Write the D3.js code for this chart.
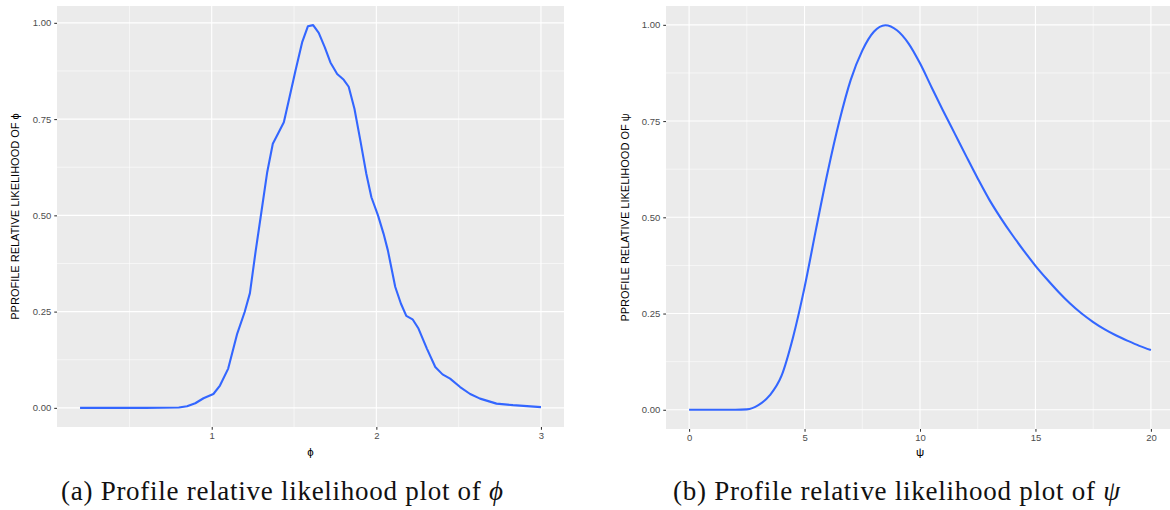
<!DOCTYPE html>
<html>
<head>
<meta charset="utf-8">
<script src="https://cdn.jsdelivr.net/npm/d3@7"></script>
<style>
  html, body { margin: 0; padding: 0; background: #ffffff; }
  svg { display: block; }
</style>
</head>
<body>
<svg id="fig" width="1170" height="510"></svg>
<script>
// Profile relative likelihood of phi
const phiValues = [0.2, 0.4, 0.6, 0.8, 0.85, 0.9, 0.95, 1.01, 1.05, 1.10, 1.155, 1.20, 1.232, 1.267,
  1.297, 1.337, 1.371, 1.40, 1.438, 1.468, 1.509, 1.549, 1.584, 1.616, 1.65, 1.687, 1.721, 1.762,
  1.802, 1.832, 1.867, 1.903, 1.939, 1.97, 2.01, 2.044, 2.07, 2.115, 2.149, 2.182, 2.22, 2.256,
  2.307, 2.358, 2.402, 2.448, 2.509, 2.57, 2.63, 2.73, 2.83, 3.0];
const phiLik = [0, 0, 0, 0.001, 0.004, 0.012, 0.025, 0.036, 0.058, 0.102, 0.193, 0.249, 0.298, 0.408,
  0.495, 0.612, 0.686, 0.71, 0.742, 0.798, 0.876, 0.949, 0.991, 0.994, 0.974, 0.936, 0.897, 0.867,
  0.852, 0.834, 0.777, 0.694, 0.608, 0.547, 0.5, 0.452, 0.409, 0.314, 0.271, 0.239, 0.23, 0.206,
  0.154, 0.106, 0.087, 0.076, 0.054, 0.036, 0.024, 0.011, 0.007, 0.002];

// Profile relative likelihood of psi
const psiValues = [0, 0.5, 1, 1.5, 2, 2.5, 3, 3.5, 4, 4.5, 5, 5.5, 6, 6.5, 7, 7.5, 8, 8.5, 9, 9.5, 10,
  10.5, 11, 11.5, 12, 12.5, 13, 13.5, 14, 14.5, 15, 15.5, 16, 16.5, 17, 17.5, 18, 18.5, 19, 19.5, 20];
const psiLik = [0, 0, 0, 0, 0, 0.001, 0.012, 0.038, 0.088, 0.188, 0.318, 0.47, 0.617, 0.748, 0.857,
  0.933, 0.982, 0.999, 0.986, 0.952, 0.9, 0.838, 0.777, 0.718, 0.659, 0.601, 0.546, 0.498, 0.454, 0.413,
  0.374, 0.339, 0.306, 0.276, 0.25, 0.228, 0.209, 0.193, 0.179, 0.166, 0.155];

const phiTicks = [1, 2, 3];
const phiMinor = [0.5, 1.5, 2.5];
const psiTicks = [0, 5, 10, 15, 20];
const psiMinor = [2.5, 7.5, 12.5, 17.5];
const likTicks = [0, 0.25, 0.5, 0.75, 1];
const likMinor = [0.125, 0.375, 0.625, 0.875];

const svg = d3.select("#fig");
const sans = "'Liberation Sans', Arial, sans-serif";

function expand(ext) {
  const pad = (ext[1] - ext[0]) * 0.05;
  return [ext[0] - pad, ext[1] + pad];
}

function drawPanel(opts) {
  const { xs, ys, left, right, top, bottom, xMajor, xMinor, xLabel, yLabel, yTitleX,
          caption, capX, capWidth, curve } = opts;
  const x = d3.scaleLinear().domain(expand(d3.extent(xs))).range([left, right]);
  const y = d3.scaleLinear().domain(expand([0, d3.max(ys)])).range([bottom, top]);
  const g = svg.append("g");

  g.append("rect").attr("x", left).attr("y", top)
    .attr("width", right - left).attr("height", bottom - top).attr("fill", "#EBEBEB");

  // minor grid
  g.selectAll(null).data(xMinor).join("line")
    .attr("x1", d => x(d)).attr("x2", d => x(d)).attr("y1", top).attr("y2", bottom)
    .attr("stroke", "#fff").attr("stroke-width", 0.55);
  g.selectAll(null).data(likMinor).join("line")
    .attr("y1", d => y(d)).attr("y2", d => y(d)).attr("x1", left).attr("x2", right)
    .attr("stroke", "#fff").attr("stroke-width", 0.55);
  // major grid
  g.selectAll(null).data(xMajor).join("line")
    .attr("x1", d => x(d)).attr("x2", d => x(d)).attr("y1", top).attr("y2", bottom)
    .attr("stroke", "#fff").attr("stroke-width", 1.1);
  g.selectAll(null).data(likTicks).join("line")
    .attr("y1", d => y(d)).attr("y2", d => y(d)).attr("x1", left).attr("x2", right)
    .attr("stroke", "#fff").attr("stroke-width", 1.1);

  // curve
  const pts = xs.map((v, i) => [v, ys[i]]);
  g.append("path").datum(pts)
    .attr("d", d3.line().x(d => x(d[0])).y(d => y(d[1])).curve(curve))
    .attr("fill", "none").attr("stroke", "#3366FF").attr("stroke-width", 2.1)
    .attr("stroke-linejoin", "round").attr("stroke-linecap", "butt");

  // axes
  const yAxis = d3.axisLeft(y).tickValues(likTicks).tickFormat(d3.format(".2f"))
    .tickSize(2.75).tickPadding(3);
  const ya = g.append("g").attr("transform", `translate(${left},0)`).call(yAxis);
  const xAxis = d3.axisBottom(x).tickValues(xMajor).tickFormat(d3.format("d"))
    .tickSize(2.75).tickPadding(3);
  const xa = g.append("g").attr("transform", `translate(0,${bottom})`).call(xAxis);
  [ya, xa].forEach(a => {
    a.select(".domain").remove();
    a.selectAll(".tick line").attr("stroke", "#333333").attr("stroke-width", 1.05);
    a.selectAll(".tick text").attr("fill", "#4D4D4D")
      .style("font-family", sans).style("font-size", "9.5px");
  });

  // axis titles
  g.append("text").attr("x", (left + right) / 2).attr("y", 456)
    .attr("text-anchor", "middle").style("font-family", sans).style("font-size", "11.5px")
    .text(xLabel);
  g.append("text")
    .attr("transform", `translate(${yTitleX},${(top + bottom) / 2}) rotate(-90)`)
    .attr("text-anchor", "middle").style("font-family", sans).style("font-size", "11px")
    .text(yLabel);

  // caption
  const cap = g.append("text").attr("x", capX).attr("y", 500)
    .attr("textLength", capWidth).attr("lengthAdjust", "spacing")
    .style("font-family", "'Liberation Serif', 'DejaVu Serif', serif").style("font-size", "27px")
    .attr("fill", "#111");
  cap.append("tspan").text(caption[0]);
  cap.append("tspan").style("font-style", "italic").text(caption[1]);
}

drawPanel({
  xs: phiValues, ys: phiLik, left: 57, right: 564, top: 6, bottom: 427,
  xMajor: phiTicks, xMinor: phiMinor, xLabel: "ϕ",
  yLabel: "PPROFILE RELATIVE LIKELIHOOD OF ϕ", yTitleX: 19,
  caption: ["(a) Profile relative likelihood plot of ", "ϕ"], capX: 61, capWidth: 442,
  curve: d3.curveLinear
});

drawPanel({
  xs: psiValues, ys: psiLik, left: 666, right: 1174, top: 6, bottom: 429,
  xMajor: psiTicks, xMinor: psiMinor, xLabel: "ψ",
  yLabel: "PPROFILE RELATIVE LIKELIHOOD OF ψ", yTitleX: 629,
  caption: ["(b) Profile relative likelihood plot of ", "ψ"], capX: 673, capWidth: 447,
  curve: d3.curveMonotoneX
});
</script>
</body>
</html>
